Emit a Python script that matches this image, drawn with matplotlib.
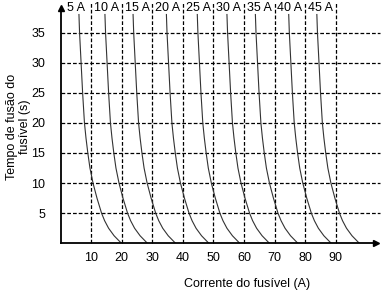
import matplotlib
matplotlib.use("Agg")
import matplotlib.pyplot as plt

plt.rcParams['font.family'] = ['Liberation Sans Narrow', 'Liberation Sans', 'DejaVu Sans']

# tempo de fusao (s)
tempos = [38, 35, 30, 25, 20, 17.5, 15, 12.5, 10, 7.5, 5, 3.75, 2.5, 1.25, 0]

# corrente (A) de cada curva, nos tempos acima
fus_5A = [6.0, 6.2, 6.7, 7.2, 7.8, 8.3, 8.9, 9.6, 10.6, 11.9, 13.4, 14.4, 15.7, 17.5, 19.9]
fus_10A = [14.5, 14.7, 15.2, 15.7, 16.3, 16.8, 17.4, 18.1, 19.1, 20.4, 21.9, 22.9, 24.2, 26.0, 28.4]
fus_15A = [23.7, 23.9, 24.4, 24.9, 25.5, 26.0, 26.6, 27.3, 28.3, 29.6, 31.1, 32.1, 33.4, 35.2, 37.6]
fus_20A = [34.6, 34.8, 35.3, 35.8, 36.4, 36.9, 37.5, 38.2, 39.2, 40.5, 42.0, 43.0, 44.3, 46.1, 48.5]
fus_25A = [44.7, 44.9, 45.4, 45.9, 46.5, 47.0, 47.6, 48.3, 49.3, 50.6, 52.1, 53.1, 54.4, 56.2, 58.6]
fus_30A = [54.4, 54.6, 55.1, 55.6, 56.2, 56.7, 57.3, 58.0, 59.0, 60.3, 61.8, 62.8, 64.1, 65.9, 68.3]
fus_35A = [63.7, 63.9, 64.4, 64.9, 65.5, 66.0, 66.6, 67.3, 68.3, 69.6, 71.1, 72.1, 73.4, 75.2, 77.6]
fus_40A = [74.6, 74.8, 75.3, 75.8, 76.4, 76.9, 77.5, 78.2, 79.2, 80.5, 82.0, 83.0, 84.3, 86.1, 88.5]
fus_45A = [83.8, 84.0, 84.5, 85.0, 85.6, 86.1, 86.7, 87.4, 88.4, 89.7, 91.2, 92.2, 93.5, 95.3, 97.7]

curvas = [fus_5A, fus_10A, fus_15A, fus_20A, fus_25A, fus_30A, fus_35A, fus_40A, fus_45A]
rotulos = ["5 A", "10 A", "15 A", "20 A", "25 A", "30 A", "35 A", "40 A", "45 A"]
rotulo_x = [5, 15, 25, 35, 45, 55, 65, 75, 85]

x_ticks = [10, 20, 30, 40, 50, 60, 70, 80, 90]
y_ticks = [5, 10, 15, 20, 25, 30, 35]

fig = plt.figure(figsize=(3.85, 2.93), dpi=100)
ax = fig.add_axes([0.1574, 0.1696, 0.830, 0.822])
ax.set_xlim(0, 104.5)
ax.set_ylim(0, 40)
for s in ax.spines.values():
    s.set_visible(False)

dash = (0, (3, 1.6))
ax.vlines(x_ticks, 0, 40, colors='k', linestyles=dash, linewidth=0.9, clip_on=False)
ax.hlines(y_ticks, 0, 104.3, colors='k', linestyles=dash, linewidth=0.9, clip_on=False)

for correntes in curvas:
    ax.plot(correntes, tempos, color='#333333', linewidth=0.8)

for txt, xp in zip(rotulos, rotulo_x):
    ax.text(xp, 39.1, txt, ha='center', va='center', fontsize=9)

# eixos com setas
ax.plot([0, 0], [0, 38.5], color='k', linewidth=1.3, clip_on=False)
ax.plot([0, 102.5], [0, 0], color='k', linewidth=1.3, clip_on=False)
ax.plot([0], [39.0], marker='^', color='k', markersize=5, clip_on=False)
ax.plot([103.0], [0], marker='>', color='k', markersize=5, clip_on=False)

ax.set_xticks(x_ticks)
ax.set_yticks(y_ticks)
ax.tick_params(length=0, labelsize=9)
ax.tick_params(axis='y', pad=11)
ax.tick_params(axis='x', pad=6)

fig.text(0.047, 0.567, "Tempo de fusão do\nfusível (s)", rotation=90,
         ha='center', va='center', fontsize=9, linespacing=1.1)
fig.text(0.642, 0.031, "Corrente do fusível (A)", ha='center', va='center', fontsize=9)

fig.savefig("out.png", dpi=100)
